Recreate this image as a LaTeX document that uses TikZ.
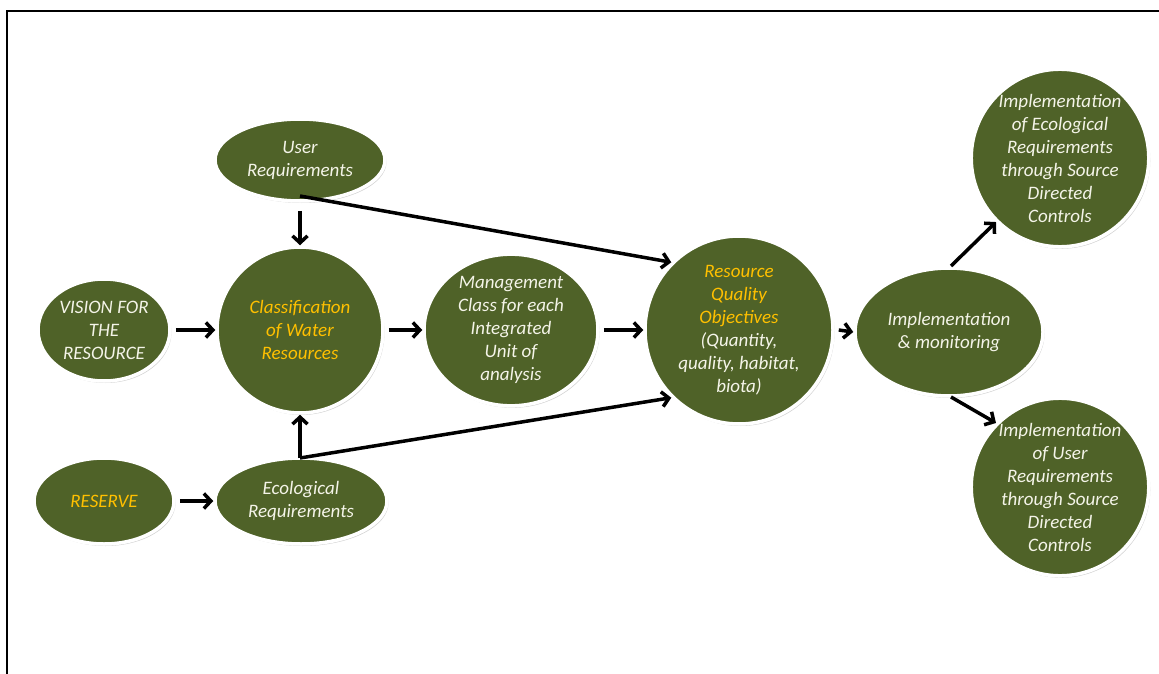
\documentclass[tikz,border=0pt]{standalone}
\usepackage{fontspec}
\setmainfont{Carlito}
\usetikzlibrary{shapes.geometric,arrows.meta,shadows}
\definecolor{olive}{HTML}{4F6228}
\definecolor{cream}{HTML}{F4F4E8}
\definecolor{gold}{HTML}{FFC000}
\begin{document}
\begin{tikzpicture}[x=1pt,y=-1pt,
  bub/.style={ellipse,fill=olive,draw=white,line width=3.5pt,inner sep=0pt,
    align=center,text=cream,font=\fontsize{19}{23}\selectfont\itshape,
    drop shadow={opacity=0.35,shadow xshift=1.5pt,shadow yshift=-2pt}},
  circ/.style={bub,circle},
  yel/.style={text=gold},
  arr/.style={-{Straight Barb[length=7pt,width=15pt,line width=3.5pt]},line width=3.5pt,line cap=butt},
  ln/.style={line width=3.5pt}]
\useasboundingbox (0,0) rectangle (1159,674);
\draw[line width=1.5pt] (7,674) -- (7,11) -- (1159,11);

\node[bub,minimum width=170,minimum height=82] (user) at (300,160) {User\\Requirements};
\node[bub,minimum width=132,minimum height=102] (vision) at (104,330) {VISION FOR\\THE\\RESOURCE};
\node[circ,yel,minimum size=166] (class) at (300,330) {Classification\\of Water\\Resources};
\node[bub,minimum width=174,minimum height=150] (mgmt) at (511,330) {Management\\Class for each\\Integrated\\Unit of\\analysis};
\node[circ,minimum size=188] (rqo) at (739,330) {\textcolor{gold}{Resource}\\\textcolor{gold}{Quality}\\\textcolor{gold}{Objectives}\\(Quantity,\\quality, habitat,\\biota)};
\node[bub,minimum width=188,minimum height=128] (impl) at (949,332) {Implementation\\\& monitoring};
\node[circ,minimum size=176] (iecol) at (1060,158) {Implementation\\of Ecological\\Requirements\\through Source\\Directed\\Controls};
\node[circ,minimum size=176] (iuser) at (1060,487) {Implementation\\of User\\Requirements\\through Source\\Directed\\Controls};
\node[bub,yel,minimum width=140,minimum height=86] (reserve) at (104,501) {RESERVE};
\node[bub,minimum width=172,minimum height=86] (eco) at (301,501) {Ecological\\Requirements};

\coordinate (ub) at (300,196);
\coordinate (eb) at (300,458);
\draw[arr] (user.south) ++(0,8) -- (class.north);
\draw[arr] (ub) -- (rqo.north west);
\draw[arr] (vision.east) ++(4,0) -- (class.west);
\draw[arr] (class.east) ++(4,0) -- (mgmt.west);
\draw[arr] (mgmt.east) ++(4,0) -- (rqo.west);
\draw[arr] (eb) -- (class.south);
\draw[arr] (eb) -- (rqo.south west);
\draw[arr] (reserve.east) ++(4,0) -- (eco.west);
\draw[arr] (rqo.east) ++(4,0) -- (impl.west);
\draw[arr] (951,266) -- (iecol.south west);
\draw[arr] (951,397) -- (iuser.north west);
\end{tikzpicture}
\end{document}
